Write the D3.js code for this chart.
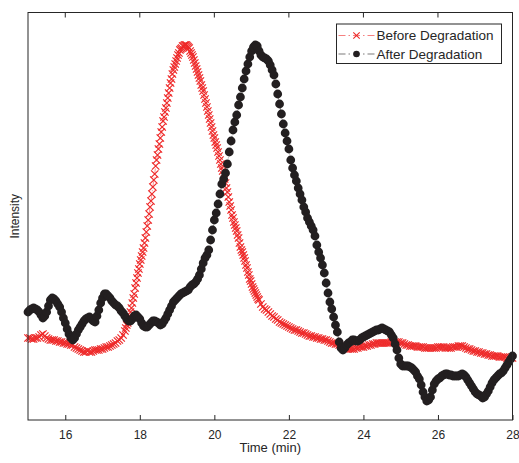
<!DOCTYPE html>
<html>
<head>
<meta charset="utf-8">
<script src="https://cdn.jsdelivr.net/npm/d3@7"></script>
<style>
  body { margin: 0; background: #fff; }
  text { font-family: Arial, "Liberation Sans", Helvetica, sans-serif; fill: #262626; }
</style>
</head>
<body>
<svg id="chart" width="519" height="463"></svg>
<script>
// x ticks (min)
var xTicks = [16, 18, 20, 22, 24, 26, 28];

// Before Degradation, time (min)
var beforeTime = [
  15.0, 15.05, 15.1, 15.15, 15.2, 15.25, 15.3, 15.35, 15.4, 15.45, 15.5, 15.55, 15.6, 15.65, 15.7, 15.75,
  15.8, 15.85, 15.9, 15.95, 16.0, 16.05, 16.1, 16.15, 16.2, 16.25, 16.3, 16.35, 16.4, 16.45, 16.5, 16.55,
  16.6, 16.65, 16.7, 16.75, 16.8, 16.85, 16.9, 16.95, 17.0, 17.05, 17.1, 17.15, 17.2, 17.25, 17.3, 17.35,
  17.4, 17.45, 17.5, 17.55,
  17.6, 17.625, 17.65, 17.675, 17.7, 17.725, 17.75, 17.775, 17.8, 17.825, 17.85, 17.875, 17.9, 17.925, 17.95, 17.975,
  18.0, 18.025, 18.05, 18.075, 18.1, 18.125, 18.15, 18.175, 18.2, 18.225, 18.25, 18.275, 18.3, 18.325, 18.35, 18.375,
  18.4, 18.425, 18.45, 18.475, 18.5, 18.525, 18.55, 18.575, 18.6, 18.625, 18.65, 18.675, 18.7, 18.725, 18.75, 18.775,
  18.8, 18.825, 18.85, 18.875, 18.9, 18.925, 18.95, 18.975, 19.0, 19.025, 19.05, 19.075, 19.1, 19.125, 19.15, 19.175,
  19.2, 19.225, 19.25, 19.275, 19.3, 19.325, 19.35, 19.375, 19.4, 19.425, 19.45, 19.475, 19.5, 19.525, 19.55, 19.575,
  19.6, 19.625, 19.65, 19.675, 19.7, 19.725, 19.75, 19.775, 19.8, 19.825, 19.85, 19.875, 19.9, 19.925, 19.95, 19.975,
  20.0, 20.025, 20.05, 20.075, 20.1, 20.125, 20.15, 20.175, 20.2, 20.225, 20.25, 20.275, 20.3, 20.325, 20.35, 20.375,
  20.4, 20.425, 20.45, 20.475, 20.5, 20.525, 20.55, 20.575, 20.6, 20.625, 20.65, 20.675, 20.7, 20.725, 20.75, 20.775,
  20.8, 20.825, 20.85, 20.875, 20.9, 20.925, 20.95, 20.975, 21.0, 21.025, 21.05, 21.075, 21.1, 21.125, 21.15, 21.175,
  21.2, 21.25, 21.3, 21.35, 21.4, 21.45, 21.5, 21.55, 21.6, 21.65, 21.7, 21.75, 21.8, 21.85, 21.9, 21.95,
  22.0, 22.05, 22.1, 22.15, 22.2, 22.25, 22.3, 22.35, 22.4, 22.45, 22.5, 22.55, 22.6, 22.65, 22.7, 22.75,
  22.8, 22.85, 22.9, 22.95, 23.0, 23.05, 23.1, 23.15, 23.2, 23.25, 23.3, 23.35, 23.4, 23.45, 23.5, 23.55,
  23.6, 23.65, 23.7, 23.75, 23.8, 23.85, 23.9, 23.95, 24.0, 24.05, 24.1, 24.15, 24.2, 24.25, 24.3, 24.35,
  24.4, 24.45, 24.5, 24.55, 24.6, 24.65, 24.7, 24.75, 24.8, 24.85, 24.9, 24.95, 25.0, 25.05, 25.1, 25.15,
  25.2, 25.25, 25.3, 25.35, 25.4, 25.45, 25.5, 25.55, 25.6, 25.65, 25.7, 25.75, 25.8, 25.85, 25.9, 25.95,
  26.0, 26.05, 26.1, 26.15, 26.2, 26.25, 26.3, 26.35, 26.4, 26.45, 26.5, 26.55, 26.6, 26.65, 26.7, 26.75,
  26.8, 26.85, 26.9, 26.95, 27.0, 27.05, 27.1, 27.15, 27.2, 27.25, 27.3, 27.35, 27.4, 27.45, 27.5, 27.55,
  27.6, 27.65, 27.7, 27.75, 27.8, 27.85, 27.9, 27.95, 28.0
];
// Before Degradation, intensity (a.u.)
var beforeValue = [
  82, 82, 81, 81, 82, 82, 83, 85, 86, 84, 82, 81, 80, 80, 80, 79,
  79, 78, 78, 77, 77, 76, 76, 75, 75, 73, 72, 71, 70, 69, 68, 68,
  69, 68, 68, 69, 70, 70, 70, 71, 71, 72, 73, 73, 74, 75, 76, 77,
  79, 80, 82, 85,
  89, 92, 95, 97, 100, 104, 108, 112, 117, 122, 126, 132, 137, 142, 147, 151,
  156, 160, 164, 168, 172, 177, 182, 188, 194, 200, 206, 213, 219, 226, 233, 240,
  246, 254, 260, 265, 271, 276, 282, 288, 293, 299, 303, 308, 312, 317, 322, 327,
  332, 337, 341, 346, 350, 353, 356, 359, 362, 365, 367, 370, 371, 372, 374, 374,
  375, 375, 375, 374, 373, 372, 369, 367, 365, 363, 360, 357, 354, 351, 348, 345,
  342, 339, 335, 332, 329, 325, 321, 317, 313, 309, 305, 301, 297, 293, 289, 285,
  282, 278, 275, 272, 268, 264, 260, 256, 252, 249, 245, 241, 237, 232, 228, 223,
  218, 214, 210, 205, 202, 198, 195, 192, 189, 185, 182, 177, 173, 170, 168, 165,
  162, 159, 155, 152, 148, 145, 141, 139, 136, 133, 131, 129, 127, 125, 123, 121,
  120, 116, 113, 111, 110, 108, 106, 104, 103, 101, 100, 98, 97, 96, 95, 94,
  93, 92, 91, 90, 90, 89, 88, 87, 87, 86, 85, 84, 84, 83, 83, 82,
  82, 81, 81, 80, 80, 79, 78, 77, 77, 76, 76, 75, 74, 73, 72, 71,
  71, 71, 71, 71, 72, 72, 73, 73, 73, 74, 74, 75, 75, 76, 76, 77,
  77, 77, 77, 77, 77, 77, 77, 78, 78, 78, 78, 78, 77, 77, 76, 75,
  75, 74, 74, 74, 74, 73, 73, 73, 73, 72, 72, 72, 72, 72, 72, 72,
  73, 73, 73, 73, 72, 72, 72, 72, 73, 73, 73, 74, 74, 74, 73, 72,
  71, 71, 70, 69, 69, 68, 68, 67, 67, 66, 66, 65, 65, 64, 64, 64,
  64, 63, 63, 63, 63, 62, 62, 62, 62
];

// After Degradation, time (min)
var afterTime = [
  15.0, 15.05, 15.1, 15.15, 15.2, 15.25, 15.3, 15.35, 15.4, 15.45, 15.5, 15.55, 15.6, 15.65, 15.7, 15.75,
  15.8, 15.85, 15.9, 15.95, 16.0, 16.05, 16.1, 16.15, 16.2, 16.25, 16.3, 16.35, 16.4, 16.45, 16.5, 16.55,
  16.6, 16.65, 16.7, 16.75, 16.8, 16.85, 16.9, 16.95, 17.0, 17.05, 17.1, 17.15, 17.2, 17.25, 17.3, 17.35,
  17.4, 17.45, 17.5, 17.55, 17.6, 17.65, 17.7, 17.75, 17.8, 17.85, 17.9, 17.95, 18.0, 18.05, 18.1, 18.15,
  18.2, 18.25, 18.3, 18.35, 18.4, 18.45, 18.5, 18.55, 18.6, 18.65, 18.7, 18.75, 18.8, 18.85, 18.9, 18.95,
  19.0, 19.05, 19.1, 19.15, 19.2, 19.25, 19.3, 19.35, 19.4, 19.45, 19.5, 19.55, 19.6, 19.65, 19.7, 19.75,
  19.8, 19.85, 19.9, 19.95, 20.0, 20.05, 20.1, 20.15, 20.2, 20.25, 20.3, 20.35, 20.4, 20.45, 20.5, 20.55,
  20.6, 20.65, 20.7, 20.75, 20.8, 20.85, 20.9, 20.95, 21.0, 21.05, 21.1, 21.15, 21.2, 21.25, 21.3, 21.35,
  21.4, 21.45, 21.5, 21.55, 21.6, 21.65, 21.7, 21.75, 21.8, 21.85, 21.9, 21.95, 22.0, 22.05, 22.1, 22.15,
  22.2, 22.25, 22.3, 22.35, 22.4, 22.45, 22.5, 22.55, 22.6, 22.65, 22.7, 22.75, 22.8, 22.85, 22.9, 22.95,
  23.0, 23.05, 23.1, 23.15, 23.2, 23.25, 23.3, 23.35, 23.4, 23.45, 23.5, 23.55, 23.6, 23.65, 23.7, 23.75,
  23.8, 23.85, 23.9, 23.95, 24.0, 24.05, 24.1, 24.15, 24.2, 24.25, 24.3, 24.35, 24.4, 24.45, 24.5, 24.55,
  24.6, 24.65, 24.7, 24.75, 24.8, 24.85, 24.9, 24.95, 25.0, 25.05, 25.1, 25.15, 25.2, 25.25, 25.3, 25.35,
  25.4, 25.45, 25.5, 25.55, 25.6, 25.65, 25.7, 25.75, 25.8, 25.85, 25.9, 25.95, 26.0, 26.05, 26.1, 26.15,
  26.2, 26.25, 26.3, 26.35, 26.4, 26.45, 26.5, 26.55, 26.6, 26.65, 26.7, 26.75, 26.8, 26.85, 26.9, 26.95,
  27.0, 27.05, 27.1, 27.15, 27.2, 27.25, 27.3, 27.35, 27.4, 27.45, 27.5, 27.55, 27.6, 27.65, 27.7, 27.75,
  27.8, 27.85, 27.9, 27.95, 28.0
];
// After Degradation, intensity (a.u.)
var afterValue = [
  108, 110, 111, 112, 111, 110, 108, 105, 102, 104, 108, 114, 120, 122, 121, 119,
  116, 113, 108, 102, 97, 91, 86, 82, 80, 82, 86, 90, 93, 96, 99, 101,
  102, 103, 101, 99, 98, 104, 110, 117, 122, 126, 126, 124, 122, 119, 117, 115,
  114, 112, 109, 107, 104, 101, 99, 99, 101, 104, 105, 103, 101, 97, 94, 93,
  93, 95, 97, 99, 99, 98, 97, 95, 96, 99, 102, 106, 110, 114, 118, 120,
  122, 124, 126, 127, 128, 129, 130, 133, 135, 136, 138, 141, 145, 151, 157, 162,
  165, 170, 180, 190, 200, 207, 216, 226, 236, 241, 247, 256, 268, 279, 290, 298,
  305, 315, 323, 332, 341, 349, 356, 363, 369, 373, 375, 374, 369, 365, 363, 362,
  361, 359, 355, 350, 345, 336, 326, 316, 306, 296, 287, 279, 271, 260, 252, 245,
  239, 232, 226, 220, 213, 208, 202, 198, 194, 190, 184, 175, 168, 162, 155, 147,
  137, 127, 118, 111, 103, 95, 88, 78, 72, 70, 72, 75, 77, 78, 80, 80,
  79, 79, 80, 82, 83, 84, 85, 86, 87, 88, 89, 90, 90, 91, 92, 91,
  90, 89, 88, 85, 82, 76, 70, 62, 56, 54, 54, 54, 54, 53, 52, 50,
  48, 44, 41, 35, 28, 23, 19, 20, 23, 30, 36, 39, 41, 42, 44, 45,
  46, 46, 45, 45, 44, 44, 44, 44, 45, 46, 45, 43, 40, 37, 34, 31,
  28, 26, 25, 24, 22, 23, 26, 29, 33, 37, 40, 42, 44, 46, 47, 49,
  52, 55, 58, 61, 64
];

var seriesNames = ["Before Degradation", "After Degradation"];
var seriesColors = ["#ee2a2a", "#231f20"];

var svg = d3.select("#chart"),
    margin = {left: 28, top: 12.5, right: 6.5, bottom: 43},
    width = 519 - margin.left - margin.right,
    height = 463 - margin.top - margin.bottom,
    axisColor = "#262626";

var x = d3.scaleLinear().domain([15, 28]).range([0, width]);
var y = d3.scaleLinear().domain([0, height]).range([height, 0]);

var g = svg.append("g")
    .attr("transform", "translate(" + margin.left + "," + margin.top + ")");

function toPoints(times, values) {
  return times.map(function(t, i) { return [t, values[i]]; });
}

var line = d3.line()
    .x(function(d) { return x(d[0]); })
    .y(function(d) { return y(d[1]); });

var before = toPoints(beforeTime, beforeValue),
    after = toPoints(afterTime, afterValue);

// Before: dash-dot line with x markers
g.append("path")
    .datum(before)
    .attr("d", line)
    .attr("fill", "none")
    .attr("stroke", seriesColors[0])
    .attr("stroke-width", 0.5)
    .attr("stroke-dasharray", "6,3,1,3");

var xMark = "M-3.7,-3.7L3.7,3.7M-3.7,3.7L3.7,-3.7";
g.append("g").selectAll(".xmark").data(before)
  .enter().append("path")
    .attr("class", "xmark")
    .attr("d", xMark)
    .attr("transform", function(d) { return "translate(" + x(d[0]) + "," + y(d[1]) + ")"; })
    .attr("fill", "none")
    .attr("stroke", seriesColors[0])
    .attr("stroke-width", 1.2);

// After: dash-dot line with filled circles
g.append("path")
    .datum(after)
    .attr("d", line)
    .attr("fill", "none")
    .attr("stroke", seriesColors[1])
    .attr("stroke-width", 0.5)
    .attr("stroke-dasharray", "6,3,1,3");

g.append("g").selectAll(".dot").data(after)
  .enter().append("circle")
    .attr("class", "dot")
    .attr("cx", function(d) { return x(d[0]); })
    .attr("cy", function(d) { return y(d[1]); })
    .attr("r", 4.4)
    .attr("fill", seriesColors[1]);

// axes box
g.append("rect")
    .attr("width", width)
    .attr("height", height)
    .attr("fill", "none")
    .attr("stroke", axisColor)
    .attr("stroke-width", 1);

var xAxis = g.append("g")
    .attr("transform", "translate(0," + height + ")")
    .call(d3.axisBottom(x).tickValues(xTicks).tickSizeInner(-5).tickSizeOuter(0).tickPadding(10));
xAxis.select(".domain").remove();
xAxis.selectAll("line").attr("stroke", axisColor);
xAxis.selectAll("text")
    .attr("font-size", 12)
    .attr("font-family", "Arial, 'Liberation Sans', sans-serif")
    .attr("fill", axisColor);

// ticks on the top edge too
g.append("g").selectAll(".toptick").data(xTicks)
  .enter().append("line")
    .attr("x1", function(d) { return x(d); })
    .attr("x2", function(d) { return x(d); })
    .attr("y1", 0)
    .attr("y2", 5)
    .attr("stroke", axisColor);

svg.append("text")
    .attr("x", margin.left + width / 2)
    .attr("y", 452)
    .attr("text-anchor", "middle")
    .attr("font-size", 13)
    .text("Time (min)");

svg.append("text")
    .attr("transform", "translate(19," + (margin.top + height / 2) + ") rotate(-90)")
    .attr("text-anchor", "middle")
    .attr("font-size", 12)
    .text("Intensity");

// legend
var legend = svg.append("g").attr("transform", "translate(336.5,24)");
legend.append("rect")
    .attr("width", 165)
    .attr("height", 39.5)
    .attr("fill", "#fff")
    .attr("stroke", axisColor)
    .attr("stroke-width", 1);

var rows = legend.selectAll(".row").data(seriesNames)
  .enter().append("g")
    .attr("class", "row")
    .attr("transform", function(d, i) { return "translate(0," + (11.5 + i * 18.5) + ")"; });

rows.append("line")
    .attr("x1", 2).attr("x2", 38)
    .attr("stroke", function(d, i) { return seriesColors[i]; })
    .attr("stroke-width", 0.6)
    .attr("stroke-dasharray", "7,3,1.5,3");

rows.filter(function(d, i) { return i === 0; })
  .append("path")
    .attr("d", "M-3.2,-3.2L3.2,3.2M-3.2,3.2L3.2,-3.2")
    .attr("transform", "translate(20,0)")
    .attr("fill", "none")
    .attr("stroke", seriesColors[0])
    .attr("stroke-width", 1.1);

rows.filter(function(d, i) { return i === 1; })
  .append("circle")
    .attr("cx", 20)
    .attr("r", 3.3)
    .attr("fill", seriesColors[1]);

rows.append("text")
    .attr("x", 40)
    .attr("dy", "0.35em")
    .attr("font-size", 13.5)
    .text(function(d) { return d; });
</script>
</body>
</html>
